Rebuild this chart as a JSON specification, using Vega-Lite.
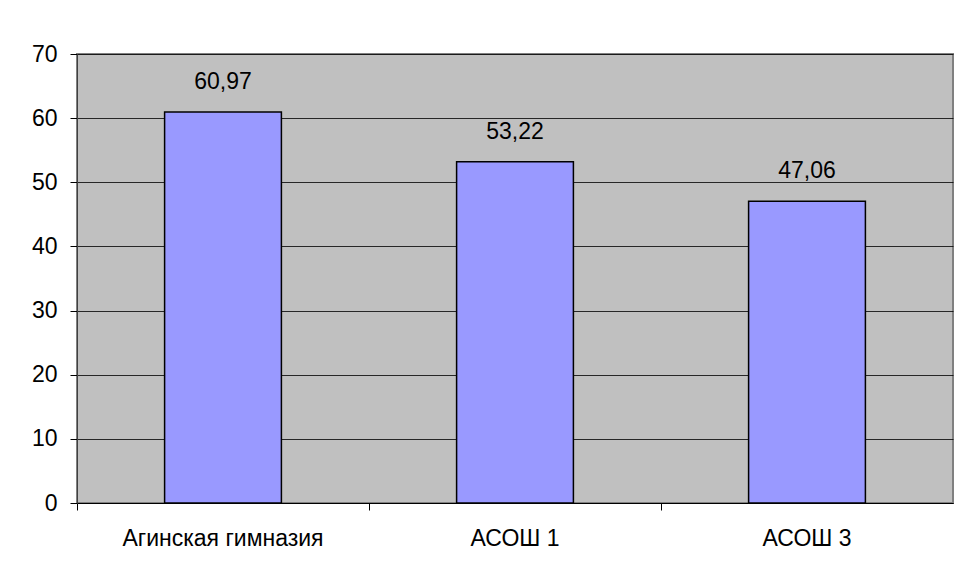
{
  "$schema": "https://vega.github.io/schema/vega-lite/v6.json",
  "width": 876,
  "height": 449,
  "autosize": {"type": "none"},
  "padding": {"left": 77, "top": 54, "right": 5, "bottom": 68},
  "background": "#ffffff",
  "data": {"values": [
    {"school": "Агинская гимназия", "value": 60.97, "label": "60,97"},
    {"school": "АСОШ 1", "value": 53.22, "label": "53,22"},
    {"school": "АСОШ 3", "value": 47.06, "label": "47,06"}
  ]},
  "config": {
    "view": {"fill": "#C0C0C0", "stroke": "#808080", "strokeWidth": 2},
    "font": "Liberation Sans"
  },
  "encoding": {
    "x": {
      "field": "school", "type": "nominal", "sort": null, "title": null,
      "scale": {"paddingInner": 0.6, "paddingOuter": 0.3},
      "axis": {
        "bandPosition": -0.75, "labelOffset": 0, "labelAngle": 0, "labelLimit": 400,
        "domainColor": "#000000", "domainWidth": 1,
        "tickColor": "#000000", "tickSize": 7, "tickWidth": 1,
        "labelFont": "Liberation Sans", "labelFontSize": 23, "labelColor": "#000000",
        "labelPadding": 17, "labelBaseline": "top"
      }
    },
    "y": {
      "field": "value", "type": "quantitative", "title": null,
      "scale": {"domain": [0, 70], "nice": false},
      "axis": {
        "values": [0, 10, 20, 30, 40, 50, 60, 70],
        "grid": true, "gridColor": "#000000", "gridWidth": 1, "gridOpacity": 0.8,
        "domainColor": "#404040", "domainWidth": 1,
        "tickColor": "#000000", "tickSize": 7,
        "labelFont": "Liberation Sans", "labelFontSize": 23, "labelColor": "#000000",
        "labelPadding": 13
      }
    }
  },
  "layer": [
    {"mark": {"type": "bar", "fill": "#9999FF", "stroke": "#000000", "strokeWidth": 1.5}},
    {"mark": {"type": "text", "dy": -30, "fontSize": 23, "font": "Liberation Sans", "color": "#000000", "baseline": "middle"},
     "encoding": {"text": {"field": "label"}}}
  ]
}
